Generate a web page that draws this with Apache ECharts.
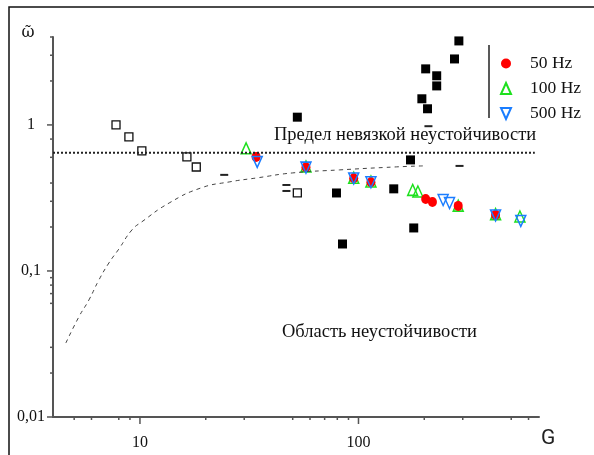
<!DOCTYPE html>
<html>
<head>
<meta charset="utf-8">
<script src="https://cdn.jsdelivr.net/npm/echarts@6/dist/echarts.min.js"></script>
<style>
  html, body { margin: 0; padding: 0; background: #fff; }
  #main { width: 594px; height: 455px; }
</style>
</head>
<body>
<div id="main"></div>
<script>
	// axis ranges (log scales)
	var xMin = 4, xMax = 670;
	var yMin = 0.01, yMax = 4;

	// filled black squares
	var blackSqX = [52.5, 288, 275, 203, 228, 228, 195, 207, 173, 79.3, 84.5, 145, 179];
	var blackSqY = [1.13, 3.76, 2.83, 2.42, 2.17, 1.85, 1.51, 1.29, 0.576, 0.342, 0.153, 0.365, 0.197];
	// open squares
	var openSqX = [7.77, 8.9, 10.2, 16.4, 18.1, 52.5];
	var openSqY = [1.0, 0.828, 0.664, 0.604, 0.515, 0.342];
	// short dashes
	var dashX = [24.3, 46.8, 46.8, 209, 290];
	var dashY = [0.455, 0.388, 0.353, 0.98, 0.524];

	var hz50X = [34.0, 57.5, 95.1, 114, 203, 218, 286, 424];
	var hz50Y = [0.604, 0.513, 0.431, 0.405, 0.311, 0.297, 0.279, 0.242];
	var hz100X = [30.6, 57.5, 95.1, 114, 177, 187, 286, 424, 548];
	var hz100Y = [0.692, 0.52, 0.435, 0.41, 0.359, 0.35, 0.28, 0.245, 0.236];
	var hz500X = [34.4, 57.5, 95.1, 114, 244, 261, 424, 553];
	var hz500Y = [0.558, 0.51, 0.43, 0.405, 0.306, 0.292, 0.24, 0.22];

	// dashed theory curve
	var curveX = [4.58, 5.25, 5.84, 6.49, 7.21, 8.01, 9.19, 10.2, 13.6, 19.0, 25.6, 34.4, 49.8, 81.8, 149, 197];
	var curveY = [0.0321, 0.0484, 0.0633, 0.0868, 0.1135, 0.1415, 0.191, 0.217, 0.292, 0.370, 0.407, 0.434, 0.469, 0.492, 0.516, 0.524];

	// limit line
	var limitY = 0.646;
	var limitX = [4, 641];

	// tick values
	var xMajor = [10, 100];
	var xMinor = [5, 6, 8, 9, 20, 30, 50, 60, 70, 80, 90, 200, 300, 500, 600];
	var yMajor = [0.01, 0.1, 1];
	var yMinor = [0.02, 0.03, 0.06, 0.07, 0.08, 0.09, 0.2, 0.3, 0.4, 0.6, 0.8, 2, 3, 4];

	function zip(a, b){
		var out = [];
		for (var i = 0; i < a.length; i++) out.push([a[i], b[i]]);
		return out;
	}
	function isPow10(v){
		var l = Math.log(v) / Math.LN10;
		return Math.abs(l - Math.round(l)) < 1e-6;
	}

	var xTickData = [];
	xMajor.forEach(function(v){ xTickData.push([v, yMin, 7]); });
	xMinor.forEach(function(v){ xTickData.push([v, yMin, 3]); });
	var yTickData = [];
	yMajor.forEach(function(v){ yTickData.push([xMin, v, 6]); });
	yMinor.forEach(function(v){ yTickData.push([xMin, v, 3]); });

	var serif = '"Liberation Serif", "DejaVu Serif", serif';
	var axisColor = '#555';

	var myChart = echarts.init(document.getElementById('main'));
	var option = {
		animation: false,
		backgroundColor: '#fff',
		grid: { left: 53, top: 37, right: 55, bottom: 38 },
		legend: {
			orient: 'vertical',
			left: 495,
			top: 49,
			itemWidth: 10,
			itemHeight: 11,
			itemGap: 6,
			textStyle: { fontFamily: serif, fontSize: 17.5, color: '#111', padding: [0, 0, 0, 14], lineHeight: 19 },
			data: ['50 Hz', '100 Hz', '500 Hz']
		},
		xAxis: {
			type: 'log',
			logBase: 10,
			min: xMin,
			max: xMax,
			name: 'G',
			nameLocation: 'end',
			nameGap: 2,
			nameTextStyle: { fontFamily: 'Roboto, "Liberation Sans", sans-serif', fontSize: 21, color: '#222', verticalAlign: 'top', padding: [11, 0, 0, 0] },
			axisLine: { lineStyle: { color: axisColor, width: 2 } },
			axisTick: { show: false },
			splitLine: { show: false },
			axisLabel: {
				margin: 18,
				fontFamily: serif,
				fontSize: 16,
				color: '#111',
				showMinLabel: false,
				showMaxLabel: false,
				formatter: function(v){ return isPow10(v) ? String(Number(v.toPrecision(6))) : ''; }
			}
		},
		yAxis: {
			type: 'log',
			logBase: 10,
			min: yMin,
			max: yMax,
			name: 'ῶ',
			nameLocation: 'end',
			nameGap: -4,
			nameTextStyle: { fontFamily: '"DejaVu Serif", serif', fontSize: 16, color: '#111', padding: [0, 50, 0, 0] },
			axisLine: { lineStyle: { color: axisColor, width: 2 } },
			axisTick: { show: false },
			splitLine: { show: false },
			axisLabel: {
				margin: 22,
				align: 'center',
				fontFamily: serif,
				fontSize: 16,
				color: '#111',
				showMaxLabel: false,
				formatter: function(v){ return isPow10(v) ? String(Number(v.toPrecision(6))).replace('.', ',') : ''; }
			}
		},
		graphic: [
			{ type: 'polyline', silent: true, shape: { points: [[9, 460], [9, 7], [600, 7]] }, style: { stroke: '#111', lineWidth: 1.5, fill: null } },
			{ type: 'line', silent: true, shape: { x1: 489, y1: 45, x2: 489, y2: 118 }, style: { stroke: '#222', lineWidth: 1.5 } },
			{ type: 'text', silent: true, left: 274, top: 126, style: { text: 'Предел невязкой неустойчивости', font: '18.5px ' + serif, fill: '#111' } },
			{ type: 'text', silent: true, left: 282, top: 323, style: { text: 'Область неустойчивости', font: '18.5px ' + serif, fill: '#111' } }
		],
		series: [
			{
				name: 'limit', type: 'line', silent: true, symbol: 'none',
				data: [[limitX[0], limitY], [limitX[1], limitY]],
				lineStyle: { color: '#222', width: 2, type: [2, 2] }
			},
			{
				name: 'theory', type: 'line', silent: true, symbol: 'none', smooth: true,
				data: zip(curveX, curveY),
				lineStyle: { color: '#444', width: 1, type: [4, 4] }
			},
			{
				name: 'black', type: 'scatter', symbol: 'rect', symbolSize: 9,
				data: zip(blackSqX, blackSqY),
				itemStyle: { color: '#000', opacity: 1 }
			},
			{
				name: 'open', type: 'scatter', symbol: 'rect', symbolSize: 8,
				data: zip(openSqX, openSqY),
				itemStyle: { color: 'rgba(0,0,0,0)', borderColor: '#111', borderWidth: 1.3, opacity: 1 }
			},
			{
				name: 'dash', type: 'scatter', symbol: 'rect', symbolSize: [8, 2],
				data: zip(dashX, dashY),
				itemStyle: { color: '#222', opacity: 1 }
			},
			{
				name: '100 Hz', type: 'scatter', symbol: 'triangle', symbolSize: [10, 11],
				data: zip(hz100X, hz100Y),
				itemStyle: { color: 'rgba(0,0,0,0)', borderColor: '#1ee01e', borderWidth: 1.5, opacity: 1 }
			},
			{
				name: '50 Hz', type: 'scatter', symbol: 'circle', symbolSize: [9, 10],
				data: zip(hz50X, hz50Y),
				itemStyle: { color: '#ff0000', opacity: 1 }
			},
			{
				name: '500 Hz', type: 'scatter', symbol: 'path://M0,0 L10,0 L5,11 Z', symbolSize: [10, 11],
				data: zip(hz500X, hz500Y),
				itemStyle: { color: 'rgba(0,0,0,0)', borderColor: '#1a7dff', borderWidth: 1.5, opacity: 1 }
			},
			{
				name: 'xticks', type: 'custom', silent: true, z: 5,
				data: xTickData,
				renderItem: function(params, api){
					var p = api.coord([api.value(0), api.value(1)]);
					var len = api.value(2);
					return { type: 'line', shape: { x1: p[0], y1: p[1], x2: p[0], y2: p[1] + len }, style: { stroke: axisColor, lineWidth: 1.5 } };
				}
			},
			{
				name: 'yticks', type: 'custom', silent: true, z: 5,
				data: yTickData,
				renderItem: function(params, api){
					var p = api.coord([api.value(0), api.value(1)]);
					var len = api.value(2);
					return { type: 'line', shape: { x1: p[0] - len, y1: p[1], x2: p[0], y2: p[1] }, style: { stroke: axisColor, lineWidth: 1.5 } };
				}
			}
		]
	};
	myChart.setOption(option);
</script>
</body>
</html>
